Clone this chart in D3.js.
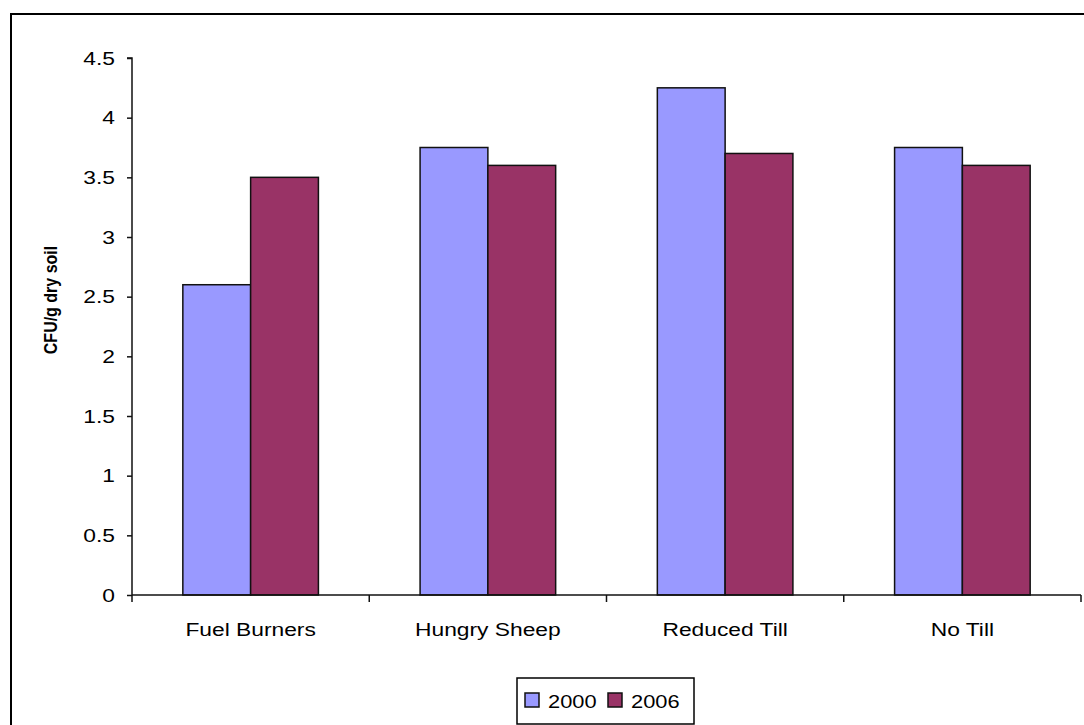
<!DOCTYPE html>
<html>
<head>
<meta charset="utf-8">
<script src="https://cdn.jsdelivr.net/npm/d3@7"></script>
<style>
  html, body { margin: 0; padding: 0; background: #fff; }
  svg { display: block; }
  text { font-family: "Liberation Sans", Arial, sans-serif; fill: #000; }
</style>
</head>
<body>
<svg id="chart" width="1084" height="725"></svg>
<script>
// Soil microbial counts by management system, two sampling years
const categories = ["Fuel Burners", "Hungry Sheep", "Reduced Till", "No Till"];
const seriesNames = ["2000", "2006"];
const values2000 = [2.6, 3.75, 4.25, 3.75];
const values2006 = [3.5, 3.6, 3.7, 3.6];
const yTicks = [0, 0.5, 1, 1.5, 2, 2.5, 3, 3.5, 4, 4.5];
const yTickLabels = ["0", "0.5", "1", "1.5", "2", "2.5", "3", "3.5", "4", "4.5"];
const colors = ["#9999FF", "#993366"];

// the chart's text is drawn slightly wide
const STRETCH = 1.2;

const svg = d3.select("#chart");

// outer chart frame
svg.append("rect")
  .attr("x", 11).attr("y", 14)
  .attr("width", 1100).attr("height", 760)
  .attr("fill", "none").attr("stroke", "#000").attr("stroke-width", 2);

const plotLeft = 132, plotRight = 1081, plotTop = 58, plotBottom = 595;

const x = d3.scaleBand().domain(categories).range([plotLeft, plotRight]).paddingInner(0).paddingOuter(0);
const y = d3.scaleLinear().domain([0, 4.5]).range([plotBottom, plotTop]);

// each bar is 1/3.5 of the category (gap width 75%)
const barW = x.bandwidth() / 3.5;
const xs = d3.scaleBand().domain(seriesNames).range([0, barW * 2]);

const rows = categories.map((c, i) => ({ cat: c, vals: [values2000[i], values2006[i]] }));

const groups = svg.append("g").selectAll("g").data(rows).join("g")
  .attr("transform", d => `translate(${x(d.cat) + (x.bandwidth() - 2 * barW) / 2},0)`);

groups.selectAll("rect").data(d => d.vals.map((v, k) => ({ v, k }))).join("rect")
  .attr("x", d => xs(seriesNames[d.k]))
  .attr("y", d => y(d.v))
  .attr("width", xs.bandwidth())
  .attr("height", d => y(0) - y(d.v))
  .attr("fill", d => colors[d.k])
  .attr("stroke", "#111")
  .attr("stroke-width", 1.5);

// y axis
const yAxis = d3.axisLeft(y).tickValues(yTicks)
  .tickFormat((d, i) => yTickLabels[i]).tickSize(5).tickPadding(12);
const gy = svg.append("g").attr("transform", `translate(${plotLeft},0)`).call(yAxis);
gy.select(".domain").attr("stroke", "#111").attr("stroke-width", 1.5).attr("d", `M-5,${plotTop}H0V${plotBottom}`);
gy.selectAll(".tick line").attr("stroke", "#111").attr("stroke-width", 1.5);
gy.selectAll(".tick text")
  .attr("font-size", 19)
  .attr("font-family", "Liberation Sans, Arial, sans-serif")
  .attr("fill", "#000")
  .attr("x", -17 / STRETCH)
  .attr("transform", `scale(${STRETCH},1)`);

// x axis with ticks at category boundaries
const gx = svg.append("g").attr("transform", `translate(0,${plotBottom})`);
gx.append("line").attr("x1", plotLeft).attr("x2", plotRight).attr("y1", 0).attr("y2", 0)
  .attr("stroke", "#111").attr("stroke-width", 1.5);
const bounds = categories.map(c => x(c)).concat([plotRight]);
gx.selectAll("line.tk").data(bounds).join("line").attr("class", "tk")
  .attr("x1", d => d).attr("x2", d => d).attr("y1", 0).attr("y2", 7)
  .attr("stroke", "#111").attr("stroke-width", 1.5);
gx.selectAll("text").data(categories).join("text")
  .attr("transform", d => `translate(${x(d) + x.bandwidth() / 2},41) scale(${STRETCH},1)`)
  .attr("text-anchor", "middle")
  .attr("font-size", 19)
  .text(d => d);

// y axis title
svg.append("text")
  .attr("transform", `translate(57,300) scale(${STRETCH},1) rotate(-90)`)
  .attr("text-anchor", "middle")
  .attr("font-size", 16)
  .attr("font-weight", "bold")
  .text("CFU/g dry soil");

// legend
const lg = svg.append("g").attr("transform", "translate(517,678)");
lg.append("rect").attr("width", 177).attr("height", 46)
  .attr("fill", "#fff").attr("stroke", "#000").attr("stroke-width", 1.5);
const items = lg.selectAll("g").data(seriesNames).join("g")
  .attr("transform", (d, i) => `translate(${8 + i * 83},15)`);
items.append("rect").attr("width", 14).attr("height", 14)
  .attr("fill", (d, i) => colors[i]).attr("stroke", "#111").attr("stroke-width", 1.5);
items.append("text")
  .attr("transform", `translate(23,15) scale(1.15,1)`)
  .attr("font-size", 19).text(d => d);
</script>
</body>
</html>
